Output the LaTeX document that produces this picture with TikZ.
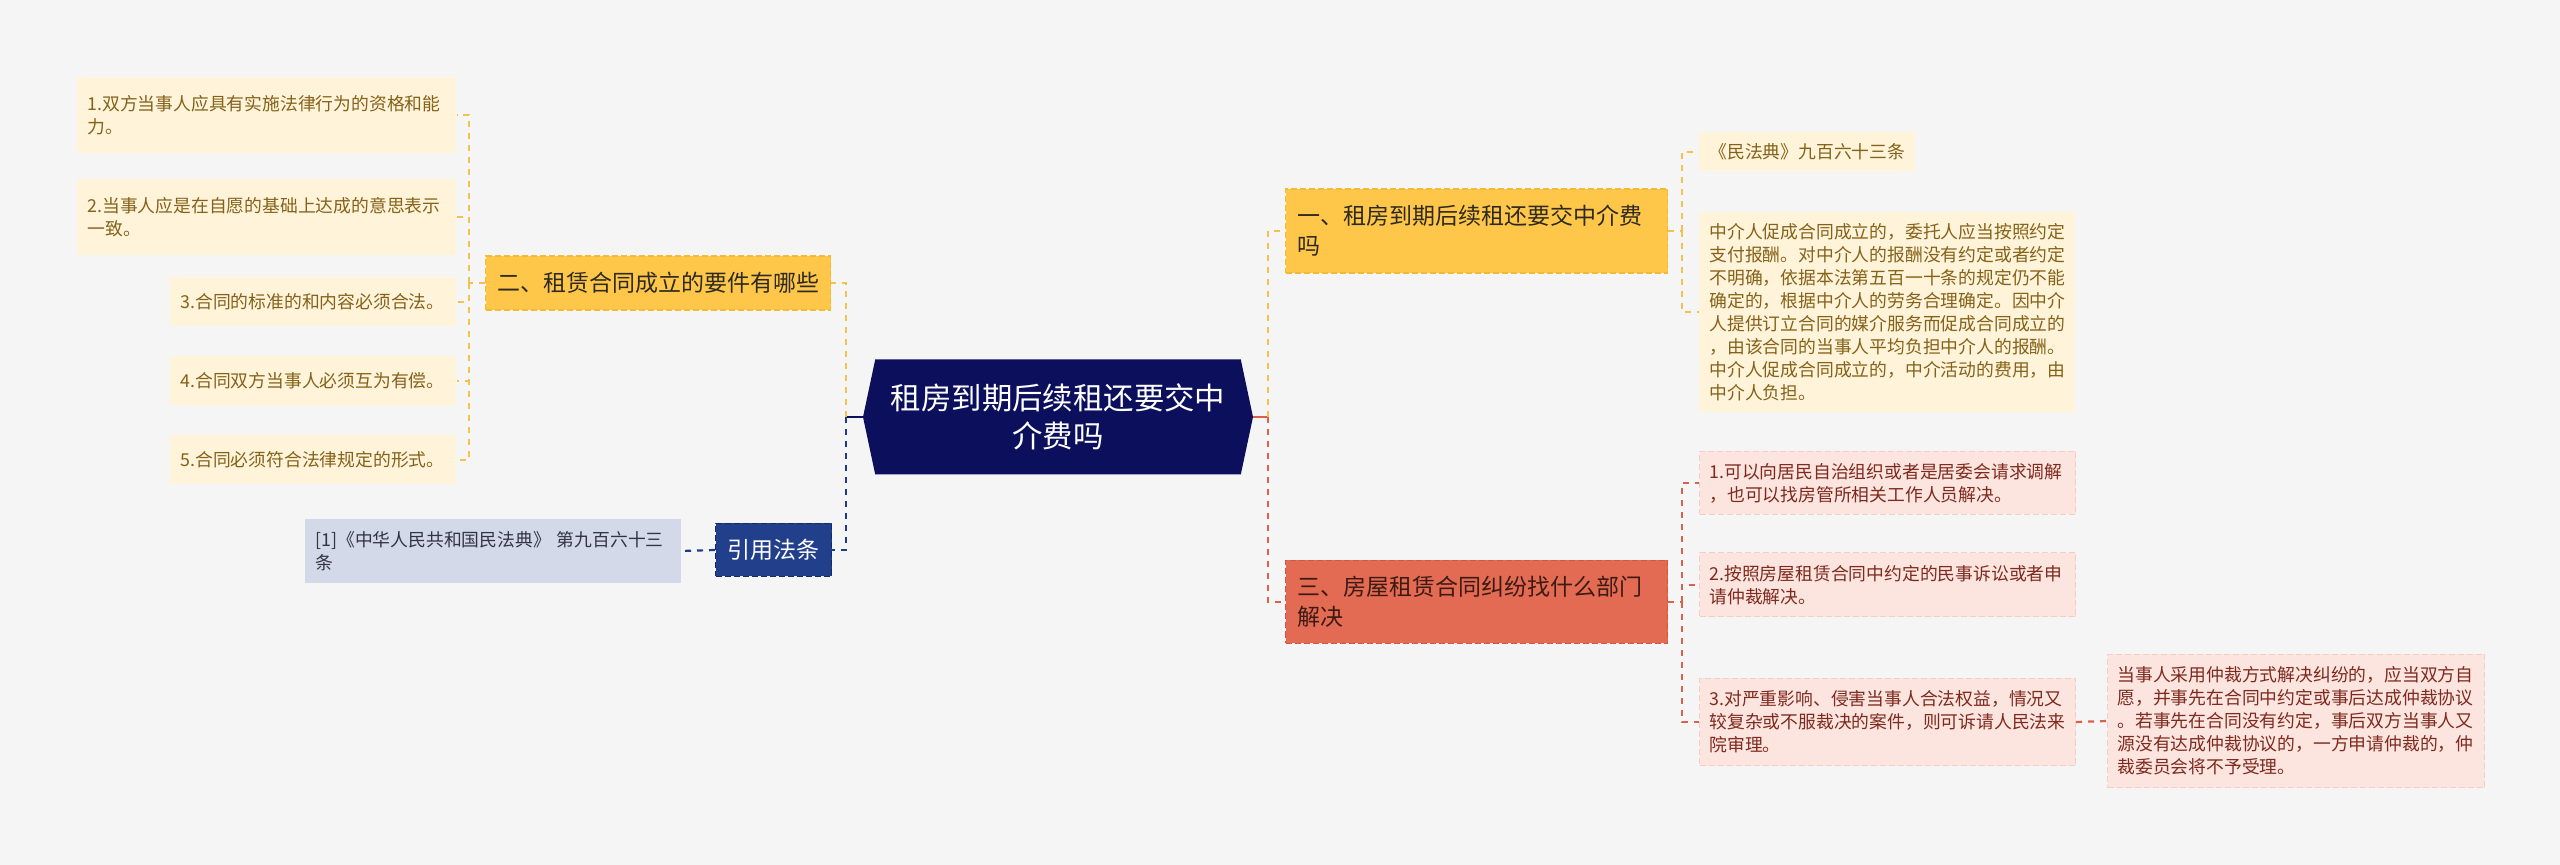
\documentclass[tikz,border=0pt]{standalone}
\usepackage{fontspec}
\setmainfont{Noto Sans CJK SC}
\usetikzlibrary{shapes.symbols,calc}

\definecolor{bgcol}{HTML}{F5F5F5}
\definecolor{rootcol}{HTML}{0B0F5C}
\definecolor{ymain}{HTML}{FFC74A}
\definecolor{yborder}{HTML}{F3BA35}
\definecolor{ytext}{HTML}{2F2A1F}
\definecolor{yleaf}{HTML}{FFF3D9}
\definecolor{yleaftext}{HTML}{85621A}
\definecolor{yconn}{HTML}{F3C14C}
\definecolor{bmain}{HTML}{223F8C}
\definecolor{bborder}{HTML}{13296B}
\definecolor{bleaf}{HTML}{D3D9E9}
\definecolor{bleaftext}{HTML}{333344}
\definecolor{bconn}{HTML}{1F3A8A}
\definecolor{rmain}{HTML}{E36B53}
\definecolor{rborder}{HTML}{D2573F}
\definecolor{rtext}{HTML}{3D1A12}
\definecolor{rleaf}{HTML}{FCE4DF}
\definecolor{rleafborder}{HTML}{F3CEC5}
\definecolor{rleaftext}{HTML}{7E2A1E}
\definecolor{rconn}{HTML}{D9624C}

\tikzset{
  boxsize/.style 2 args={text width=#1, minimum height=#2},
  rootbox/.style={shape=signal, signal to=east and west, signal pointer angle=156,
    fill=rootcol, text=white, minimum width=195pt, minimum height=57.5pt,
    align=center, inner sep=0pt, font=\fontsize{15.2}{19}\selectfont},
  mainbox/.style={draw, dashed, dash pattern=on 3pt off 1.5pt, line width=0.6pt,
    align=left, inner xsep=6pt, inner ysep=3pt, font=\fontsize{11.5}{15}\selectfont},
  leafbox/.style={align=left, inner xsep=5pt, inner ysep=3pt,
    font=\fontsize{8.9}{11.5}\selectfont},
  ybox/.style={mainbox, fill=ymain, draw=yborder, text=ytext},
  bbox/.style={mainbox, fill=bmain, draw=bborder, text=white, align=center},
  rbox/.style={mainbox, fill=rmain, draw=rborder, text=rtext},
  yleafbox/.style={leafbox, fill=yleaf, text=yleaftext},
  bleafbox/.style={leafbox, fill=bleaf, text=bleaftext},
  rleafbox/.style={leafbox, fill=rleaf, draw=rleafborder, dashed, line width=0.5pt,
    dash pattern=on 3pt off 1.5pt, text=rleaftext},
  link/.style={line width=1.1pt, dash pattern=on 3pt off 3pt},
  ylink/.style={link, draw=yconn},
  blink/.style={link, draw=bconn},
  rlink/.style={link, draw=rconn},
}

\begin{document}
\begin{tikzpicture}[x=0.5pt,y=-0.5pt]
		\useasboundingbox (0,0) rectangle (2560,865);
		\fill[bgcol] (0,0) rectangle (2560,865);

		\node[rootbox] (root) at (1058,417) {租房到期后续租还要交中\\介费吗};

		\node[ybox, anchor=west, boxsize={160.5pt}{27pt}] (left1) at (485,283) {二、租赁合同成立的要件有哪些};
		\node[yleafbox, anchor=west, boxsize={179.5pt}{38pt}] (ll1) at (77,115) {1.双方当事人应具有实施法律行为的资格和能\\力。};
		\node[yleafbox, anchor=west, boxsize={179.5pt}{38pt}] (ll2) at (77,217) {2.当事人应是在自愿的基础上达成的意思表示\\一致。};
		\node[yleafbox, anchor=west, boxsize={133pt}{24.5pt}] (ll3) at (170,302) {3.合同的标准的和内容必须合法。};
		\node[yleafbox, anchor=west, boxsize={133pt}{24.5pt}] (ll4) at (170,381) {4.合同双方当事人必须互为有偿。};
		\node[yleafbox, anchor=west, boxsize={133pt}{24.5pt}] (ll5) at (170,460) {5.合同必须符合法律规定的形式。};

		\node[bbox, anchor=west, boxsize={46pt}{26.5pt}] (cite) at (715,550) {引用法条};
		\node[bleafbox, anchor=west, boxsize={178pt}{32pt}] (citeleaf) at (305,551) {[1]《中华人民共和国民法典》 第九百六十三\\条};

		\node[ybox, anchor=west, boxsize={179pt}{42pt}] (r1) at (1285,231) {一、租房到期后续租还要交中介费\\吗};
		\node[yleafbox, anchor=west, boxsize={98pt}{19.5pt}] (r1a) at (1699,152) {《民法典》九百六十三条};
		\node[yleafbox, anchor=west, boxsize={178pt}{100pt}] (r1b) at (1699,312) {中介人促成合同成立的，委托人应当按照约定\\支付报酬。对中介人的报酬没有约定或者约定\\不明确，依据本法第五百一十条的规定仍不能\\确定的，根据中介人的劳务合理确定。因中介\\人提供订立合同的媒介服务而促成合同成立的\\，由该合同的当事人平均负担中介人的报酬。\\中介人促成合同成立的，中介活动的费用，由\\中介人负担。};

		\node[rbox, anchor=west, boxsize={179pt}{41.5pt}] (r3) at (1285,602) {三、房屋租赁合同纠纷找什么部门\\解决};
		\node[rleafbox, anchor=west, boxsize={178pt}{31.5pt}] (r3a) at (1699,483) {1.可以向居民自治组织或者是居委会请求调解\\，也可以找房管所相关工作人员解决。};
		\node[rleafbox, anchor=west, boxsize={178pt}{32pt}] (r3b) at (1699,585) {2.按照房屋租赁合同中约定的民事诉讼或者申\\请仲裁解决。};
		\node[rleafbox, anchor=west, boxsize={178pt}{43.5pt}] (r3c) at (1699,722) {3.对严重影响、侵害当事人合法权益，情况又\\较复杂或不服裁决的案件，则可诉请人民法来\\院审理。};
		\node[rleafbox, anchor=west, boxsize={178.5pt}{66.5pt}] (r3c1) at (2107,721) {当事人采用仲裁方式解决纠纷的，应当双方自\\愿，并事先在合同中约定或事后达成仲裁协议\\。若事先在合同没有约定，事后双方当事人又\\源没有达成仲裁协议的，一方申请仲裁的，仲\\裁委员会将不予受理。};

		\coordinate (jleft) at (846,417);
		\coordinate (jright) at (1268,417);
		\coordinate (jl1) at (469,283);
		\coordinate (jr1) at (1682,231);
		\coordinate (jr3) at (1682,602);

		\draw[rootcol, line width=1.1pt] (root.west) -- (jleft);
		\draw[ylink] (jleft) |- (left1.east);
		\draw[blink] (jleft) |- (cite.east);
		\draw[blink] (cite.west) -- (citeleaf.east);
		\draw[ylink] (left1.west) -- (jl1);
		\foreach \n in {ll1,ll2,ll3,ll4,ll5}
			\draw[ylink] (jl1) |- (\n.east);

		\draw[rconn, line width=1.1pt] (root.east) -- (jright);
		\draw[ylink] (jright) |- (r1.west);
		\draw[rlink] (jright) |- (r3.west);
		\draw[ylink] (r1.east) -- (jr1);
		\foreach \n in {r1a,r1b}
			\draw[ylink] (jr1) |- (\n.west);
		\draw[rlink] (r3.east) -- (jr3);
		\foreach \n in {r3a,r3b,r3c}
			\draw[rlink] (jr3) |- (\n.west);
		\draw[rlink] (r3c.east) -- (r3c1.west);
	\end{tikzpicture}
\end{document}
